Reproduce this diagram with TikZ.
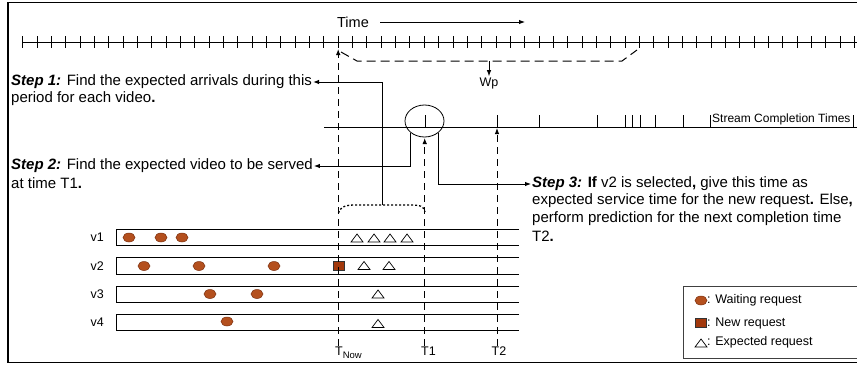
\documentclass[tikz,border=0pt]{standalone}
\usepackage{fontspec}
\setmainfont{Liberation Sans}
\usetikzlibrary{arrows.meta,shapes.geometric}
\definecolor{waitfill}{HTML}{B4501E}
\definecolor{waitedge}{HTML}{7A2E0E}
\definecolor{newfill}{HTML}{A2380C}

\begin{document}
\begin{tikzpicture}[x=1pt,y=-1pt,
      every node/.style={font=\fontsize{12.5}{15}\selectfont,inner sep=1pt},
      steptext/.style={font=\fontsize{15}{17}\selectfont,anchor=west},
      arr/.style={-{Latex[length=6pt,width=4.5pt]},line width=.9pt},
      guide/.style={arr,dash pattern=on 7pt off 5pt},
      waiting/.style={ellipse,draw=waitedge,fill=waitfill,line width=.5pt,
        minimum width=12pt,minimum height=9pt,inner sep=0pt},
      newreq/.style={rectangle,draw=black!80,fill=newfill,line width=.6pt,
        minimum width=11pt,minimum height=9pt,inner sep=0pt}]
    \useasboundingbox (0,0) rectangle (857,367);
    \newcommand\expmark[2]{\draw[line width=.7pt] (#1-6,#2+4) -- (#1,#2-4) -- (#1+6,#2+4) -- cycle;}
    % frame
    \draw[line width=1.8pt] (8,2.5) rectangle (864,362.5);

    % time axis
    \node (time) at (353,22) {\fontsize{14.5}{17}\selectfont Time};
    \coordinate (timeend) at (525,22);
    \draw[arr] ([xshift=10pt]time.east) -- (timeend);
    \draw[line width=.9pt] (22.7,42) -- (860,42);
    \foreach \k in {0,...,58}
      \draw[line width=.8pt] (22.7+14.34*\k,36) -- ++(0,12);
    \coordinate (nowtop) at (338.2,49);

    % prediction window
    \draw[line width=1pt,dash pattern=on 9pt off 5pt]
      (341,52) -- (357,61) -- (622,61) -- (637,50);
    \coordinate (wpstart) at (489,61);
    \node (wp) at (489,83) {Wp};
    \draw[arr] (wpstart) -- (wp.north);

    % stream completion times
    \draw[line width=.9pt] (324,127) -- (860,127);
    \foreach \x in {425,497,539,597,625,632,640,655,683,710,853}
      \draw[line width=.8pt] (\x,127) -- (\x,115);
    \node[anchor=west,font=\fontsize{12}{14}\selectfont] (sct) at (711,119.5)
      {Stream Completion Times};
    \node[draw,ellipse,line width=.8pt,minimum width=39pt,minimum height=32pt]
      (sel) at (424.5,121) {};
    \coordinate (t1top) at (424.7,138);
    \coordinate (t2top) at (497,128);

    % steps
    \node[steptext] (s1a) at (10,82)
      {\textbf{\textit{Step 1:}} Find the expected arrivals during this};
    \node[steptext] (s1b) at (10,99) {period for each video\textbf{.}};
    \node[steptext] (s2a) at (10,166)
      {\textbf{\textit{Step 2:}} Find the expected video to be served};
    \node[steptext] (s2b) at (10,183) {at time T1\textbf{.}};
    \node[steptext] (s3a) at (531,184)
      {\textbf{\textit{Step 3:} If} v2 is selected\textbf{,} give this time as};
    \node[steptext] (s3b) at (531,201)
      {expected service time for the new request\textbf{.} Else\textbf{,}};
    \node[steptext] (s3c) at (531,218.5) {perform prediction for the next completion time};
    \node[steptext] (s3d) at (531,236) {T2\textbf{.}};

    % arrivals bracket
    \draw[line width=1.3pt,dash pattern=on 2pt off 2pt]
      (338.5,213) .. controls (341,206) and (346,205) .. (356,205)
      -- (410,205) .. controls (420,205) and (424,206) .. (425,212);
    \coordinate (brk) at (382,205);
    \draw[arr] (brk) |- (s1a.east);
    \draw[arr] (sel.south west) |- (s2a.east);
    \draw[arr] (sel.south east) |- (s3a.west);

    % videos
    \foreach \i/\t in {1/229,2/257.5,3/286,4/314.2} {
      \draw[line width=.9pt] (519,\t) -- (116,\t) -- (116,\t+16.5) -- (519,\t+16.5);
      \node[anchor=east] (v\i) at (105,\t+8.3) {v\i};
    }
    \foreach \x/\y [count=\i] in {129/237.5,161/237.5,182/237.5,144/266,199/266,
        274/266,210/294,257/294,227/321.5}
      \node[waiting] (w\i) at (\x,\y) {};
    \node[newreq] (nr) at (338.5,265.5) {};
    \foreach \x/\y in {357/238,374/238,390/238,407/238,364/265.5,389/265.5,
        378/294,378/323.5} {
      \expmark{\x}{\y}
    }

    % time marks
    \node[anchor=north west] (tnow) at (334,345.5)
      {T\raisebox{-3pt}{\fontsize{9.5}{10}\selectfont Now}};
    \node[anchor=north west] (t1) at (420,345.5) {T1};
    \node[anchor=north west] (t2) at (490.5,345.5) {T2};
    \draw[guide] (tnow.north -| nowtop) -- (nowtop);
    \draw[guide] (t1.north -| t1top) -- (t1top);
    \draw[guide] (t2.north -| t2top) -- (t2top);

    % legend
    \draw[line width=.8pt,black!75] (683,286) rectangle (862,358);
    \node[waiting] (lw) at (701,300.5) {};
    \node[anchor=west] (lwt) at (706,300.5) {: Waiting request};
    \node[newreq] (ln) at (701,323) {};
    \node[anchor=west] (lnt) at (706,323) {: New request};
    \expmark{701}{343}
    \node[anchor=west] (let) at (706,342.5) {: Expected request};
  \end{tikzpicture}
\end{document}
